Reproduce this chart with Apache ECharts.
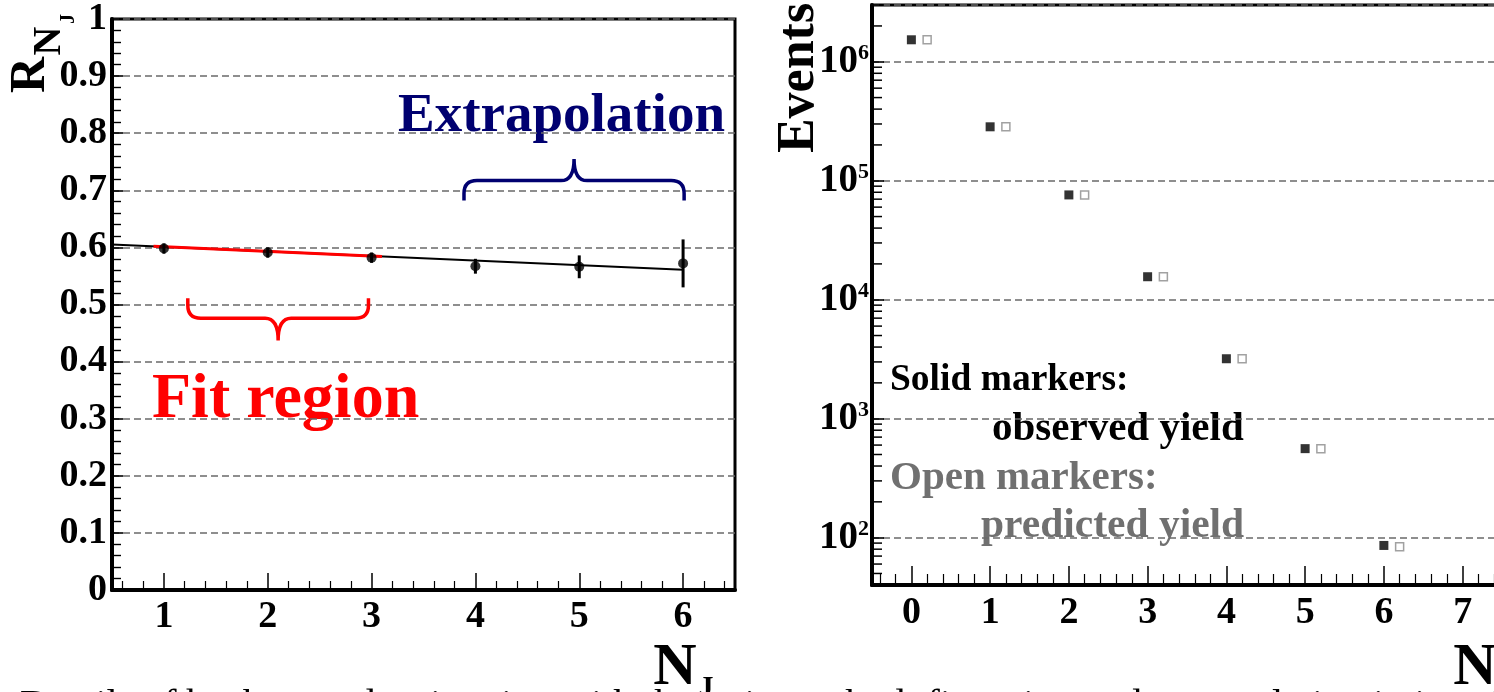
<!DOCTYPE html>
<html><head><meta charset="utf-8">
<script src="https://cdn.jsdelivr.net/npm/echarts@6/dist/echarts.min.js"></script>
<style>html,body{margin:0;padding:0;overflow:hidden;background:#fff;width:1494px;height:692px}#c{width:1512px;height:692px}</style>
</head><body><div id="c"></div>
<script>
// ---- Left panel: ratio R_NJ vs N_J ----
const nJetsRatio = [1, 2, 3, 4, 5, 6];
const ratioValues = [0.598, 0.591, 0.582, 0.567, 0.566, 0.572];
const ratioErrors = [0.009, 0.009, 0.009, 0.013, 0.020, 0.042];
const fitLineX = [0.5, 6];
const fitLineY = [0.605, 0.561];
const fitRegionX = [0.9, 3.1];
const fitRegionY = [0.602, 0.584];
// brace: [xStart, xEnd, yEnds, yBar, yTip]
const fitBrace = [1.23, 2.97, 0.511, 0.476, 0.437];
const extrapBrace = [3.89, 6.01, 0.682, 0.717, 0.755];
const ratioYTicks = [0, 0.1, 0.2, 0.3, 0.4, 0.5, 0.6, 0.7, 0.8, 0.9, 1];

// ---- Right panel: events vs N_J ----
const nJets = [0, 1, 2, 3, 4, 5, 6];
const observedYield = [1.53e6, 2.84e5, 7.6e4, 1.56e4, 3.19e3, 560, 86];
const predictedYield = [1.53e6, 2.84e5, 7.6e4, 1.56e4, 3.19e3, 560, 84];
const eventsLabelExponents = [2, 3, 4, 5, 6];
const eventsMinorTicks = [50, 60, 70, 80, 90,
  200, 300, 400, 500, 600, 700, 800, 900,
  2000, 3000, 4000, 5000, 6000, 7000, 8000, 9000,
  2e4, 3e4, 4e4, 5e4, 6e4, 7e4, 8e4, 9e4,
  2e5, 3e5, 4e5, 5e5, 6e5, 7e5, 8e5, 9e5,
  2e6];

const FF = "'Liberation Serif', 'Times New Roman', serif";
const PRED_OFFSET = 0.2;
const RX_MIN = -0.5, RX_MAX = 7.5;

const chart = echarts.init(document.getElementById('c'), null, {renderer: 'canvas'});

const gridLine = {show: true, lineStyle: {type: [7, 4], color: '#6a6a6a', width: 1.5}};
const labelFont = {fontFamily: FF, fontWeight: 'bold', fontSize: 38, color: '#000'};
const axisLineStyle = {show: true, onZero: false, lineStyle: {color: '#000', width: 4}};

function braceItem(color) {
  return function (params, api) {
    const x1 = api.value(0), x2 = api.value(1), ye = api.value(2), yb = api.value(3), yt = api.value(4);
    const xm = (x1 + x2) / 2;
    const a = api.coord([x1, ye]), b = api.coord([x2, ye]);
    const barY = api.coord([x1, yb])[1];
    const tip = api.coord([xm, yt]);
    const s = Math.sign(barY - a[1]);
    const r = 13;
    const d = 'M' + a[0] + ' ' + a[1] +
      ' L' + a[0] + ' ' + (barY - s * r) +
      ' Q' + a[0] + ' ' + barY + ' ' + (a[0] + r) + ' ' + barY +
      ' L' + (tip[0] - r) + ' ' + barY +
      ' Q' + tip[0] + ' ' + barY + ' ' + tip[0] + ' ' + tip[1] +
      ' Q' + tip[0] + ' ' + barY + ' ' + (tip[0] + r) + ' ' + barY +
      ' L' + (b[0] - r) + ' ' + barY +
      ' Q' + b[0] + ' ' + barY + ' ' + b[0] + ' ' + (barY - s * r) +
      ' L' + b[0] + ' ' + b[1];
    return {type: 'path', shape: {pathData: d}, style: {stroke: color, lineWidth: 3.5, fill: null}};
  };
}

const option = {
  animation: false,
  backgroundColor: '#fff',
  grid: [
    {left: 112, top: 18, width: 623, height: 572, show: true, borderColor: '#000', borderWidth: 3, backgroundColor: 'transparent'},
    {left: 872, top: 5, width: 630, height: 580, show: true, borderColor: '#000', borderWidth: 3, backgroundColor: 'transparent'}
  ],
  xAxis: [
    {type: 'value', gridIndex: 0, min: 0.5, max: 6.5, minInterval: 1, maxInterval: 1,
      axisLine: axisLineStyle,
      axisTick: {inside: true, length: 17, lineStyle: {color: '#000', width: 1.5}},
      minorTick: {show: true, splitNumber: 5, length: 9, lineStyle: {color: '#000', width: 1.2}},
      splitLine: {show: false},
      axisLabel: Object.assign({margin: 8, formatter: v => (Math.abs(v - Math.round(v)) < 1e-6 ? String(Math.round(v)) : '')}, labelFont)},
    {type: 'value', gridIndex: 1, min: RX_MIN, max: RX_MAX, minInterval: 1, maxInterval: 1,
      axisLine: axisLineStyle,
      axisTick: {inside: true, length: 19, lineStyle: {color: '#000', width: 1.5}},
      minorTick: {show: true, splitNumber: 5, length: 11, lineStyle: {color: '#000', width: 1.2}},
      splitLine: {show: false},
      axisLabel: Object.assign({margin: 9, formatter: v => (Math.abs(v - Math.round(v)) < 1e-6 ? String(Math.round(v)) : '')}, labelFont)}
  ],
  yAxis: [
    {type: 'value', gridIndex: 0, min: ratioYTicks[0], max: ratioYTicks[ratioYTicks.length - 1], interval: 0.1,
      axisLine: axisLineStyle,
      axisTick: {inside: true, length: 11, lineStyle: {color: '#000', width: 1.6}},
      minorTick: {show: true, splitNumber: 5, length: 9, lineStyle: {color: '#000', width: 1.4}},
      splitLine: gridLine,
      axisLabel: Object.assign({margin: 5, formatter: v => String(+v.toFixed(1))}, labelFont)},
    {type: 'log', logBase: 10, gridIndex: 1, min: 40, max: 3e6,
      axisLine: axisLineStyle,
      axisTick: {inside: true, length: 12, lineStyle: {color: '#000', width: 1.6}},
      splitLine: gridLine,
      axisLabel: {margin: 3, fontFamily: FF, fontWeight: 'bold', color: '#000',
        formatter: v => {
          const e = Math.log10(v);
          const r = Math.round(e);
          if (Math.abs(e - r) > 1e-6 || eventsLabelExponents.indexOf(r) < 0) return '';
          return '{b|10}{s|' + r + '}';
        },
        rich: {
          b: {fontFamily: FF, fontWeight: 'bold', fontSize: 39, lineHeight: 39, color: '#000'},
          s: {fontFamily: FF, fontWeight: 'bold', fontSize: 22, lineHeight: 22, verticalAlign: 'top', color: '#000'}
        }}}
  ],
  series: [
    {type: 'line', xAxisIndex: 0, yAxisIndex: 0, showSymbol: false, silent: true, z: 3,
      data: fitLineX.map((x, i) => [x, fitLineY[i]]), lineStyle: {color: '#000', width: 2}},
    {type: 'line', xAxisIndex: 0, yAxisIndex: 0, showSymbol: false, silent: true, z: 4,
      data: fitRegionX.map((x, i) => [x, fitRegionY[i]]), lineStyle: {color: '#ff0000', width: 3}},
    {type: 'custom', xAxisIndex: 0, yAxisIndex: 0, silent: true, z: 5,
      data: nJetsRatio.map((x, i) => [x, ratioValues[i] - ratioErrors[i], ratioValues[i] + ratioErrors[i]]),
      encode: {x: 0, y: [1, 2]},
      renderItem: (params, api) => {
        const lo = api.coord([api.value(0), api.value(1)]);
        const hi = api.coord([api.value(0), api.value(2)]);
        return {type: 'line', shape: {x1: lo[0], y1: lo[1], x2: hi[0], y2: hi[1]}, style: {stroke: '#000', lineWidth: 3}};
      }},
    {type: 'scatter', xAxisIndex: 0, yAxisIndex: 0, symbol: 'circle', symbolSize: 10, z: 6,
      data: nJetsRatio.map((x, i) => [x, ratioValues[i]]), itemStyle: {color: '#000'}},
    {type: 'custom', xAxisIndex: 0, yAxisIndex: 0, silent: true, clip: false, z: 6,
      data: [fitBrace], encode: {x: [0, 1], y: [2, 3, 4]}, renderItem: braceItem('#ff0000')},
    {type: 'custom', xAxisIndex: 0, yAxisIndex: 0, silent: true, clip: false, z: 6,
      data: [extrapBrace], encode: {x: [0, 1], y: [2, 3, 4]}, renderItem: braceItem('#000070')},
    {type: 'scatter', xAxisIndex: 1, yAxisIndex: 1, symbol: 'rect', symbolSize: 9, z: 6,
      data: nJets.map((x, i) => [x, observedYield[i]]), itemStyle: {color: '#000'}},
    {type: 'scatter', xAxisIndex: 1, yAxisIndex: 1, symbol: 'rect', symbolSize: 8, z: 6,
      data: nJets.map((x, i) => [x + PRED_OFFSET, predictedYield[i]]),
      itemStyle: {color: '#fff', borderColor: '#8a8a8a', borderWidth: 1.5}},
    {type: 'custom', xAxisIndex: 1, yAxisIndex: 1, silent: true, clip: false, z: 7,
      data: eventsMinorTicks.map(v => [RX_MIN, v]),
      renderItem: (params, api) => {
        const p = api.coord([api.value(0), api.value(1)]);
        return {type: 'line', shape: {x1: p[0], y1: p[1], x2: p[0] + 10, y2: p[1]}, style: {stroke: '#000', lineWidth: 1.5}};
      }}
  ],
  graphic: [
    {type: 'text', x: 152, y: 400, style: {text: 'Fit region', fontFamily: FF, fontWeight: 'bold', fontSize: 64, fill: '#ff0000', align: 'left', verticalAlign: 'middle'}},
    {type: 'text', x: 398, y: 117, style: {text: 'Extrapolation', fontFamily: FF, fontWeight: 'bold', fontSize: 55, fill: '#000070', align: 'left', verticalAlign: 'middle'}},
    {type: 'text', x: 890, y: 380, style: {text: 'Solid markers:', fontFamily: FF, fontWeight: 'bold', fontSize: 37.5, fill: '#000', align: 'left', verticalAlign: 'middle'}},
    {type: 'text', x: 992, y: 429, style: {text: 'observed yield', fontFamily: FF, fontWeight: 'bold', fontSize: 41, fill: '#000', align: 'left', verticalAlign: 'middle'}},
    {type: 'text', x: 890, y: 478, style: {text: 'Open markers:', fontFamily: FF, fontWeight: 'bold', fontSize: 41, fill: '#707070', align: 'left', verticalAlign: 'middle'}},
    {type: 'text', x: 981, y: 526, style: {text: 'predicted yield', fontFamily: FF, fontWeight: 'bold', fontSize: 41.5, fill: '#707070', align: 'left', verticalAlign: 'middle'}},
    // y-axis title left: R_{N_J}
    {type: 'text', x: 31, y: 75, rotation: Math.PI / 2, style: {text: 'R', fontFamily: FF, fontWeight: 'bold', fontSize: 50, fill: '#000', align: 'center', verticalAlign: 'middle'}},
    {type: 'text', x: 50, y: 41, rotation: Math.PI / 2, style: {text: 'N', fontFamily: FF, fontWeight: 'bold', fontSize: 40, fill: '#000', align: 'center', verticalAlign: 'middle'}},
    {type: 'text', x: 69, y: 19, rotation: Math.PI / 2, style: {text: 'J', fontFamily: FF, fontWeight: 'bold', fontSize: 20, fill: '#000', align: 'center', verticalAlign: 'middle'}},
    // y-axis title right
    {type: 'text', x: 800, y: 78, rotation: Math.PI / 2, style: {text: 'Events', fontFamily: FF, fontWeight: 'bold', fontSize: 52, fill: '#000', align: 'center', verticalAlign: 'middle'}},
    // x-axis titles
    {type: 'text', x: 675, y: 668, style: {text: 'N', fontFamily: FF, fontWeight: 'bold', fontSize: 60, fill: '#000', align: 'center', verticalAlign: 'middle'}},
    {type: 'text', x: 706, y: 688, style: {text: 'J', fontFamily: FF, fontWeight: 'bold', fontSize: 30, fill: '#000', align: 'center', verticalAlign: 'middle'}},
    {type: 'text', x: 1475, y: 668, style: {text: 'N', fontFamily: FF, fontWeight: 'bold', fontSize: 60, fill: '#000', align: 'center', verticalAlign: 'middle'}},
    {type: 'text', x: 1500, y: 688, style: {text: 'J', fontFamily: FF, fontWeight: 'bold', fontSize: 30, fill: '#000', align: 'center', verticalAlign: 'middle'}},
    // caption (cut off at the bottom)
    {type: 'text', x: 20, y: 706, style: {text: 'Details of background estimation with the ratio method: fit region and extrapolation in jet multiplicity', fontFamily: FF, fontSize: 40, fill: '#000', align: 'left', verticalAlign: 'middle'}}
  ]
};
chart.setOption(option);
</script></body></html>
